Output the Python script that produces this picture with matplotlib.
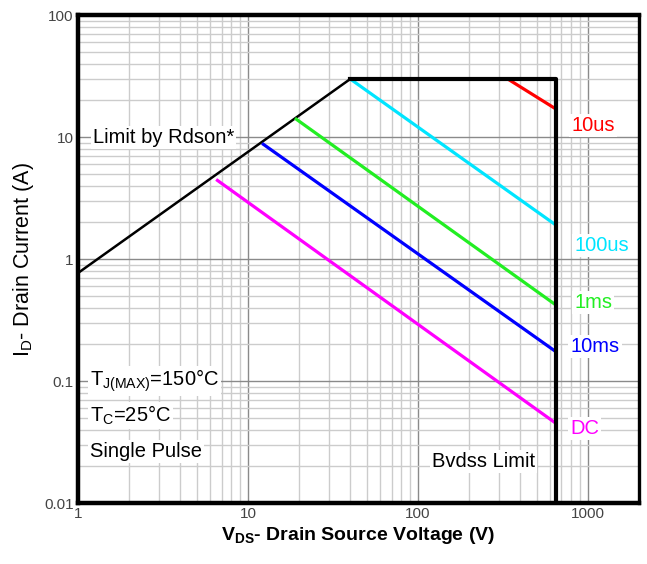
import matplotlib
matplotlib.use("Agg")
import matplotlib.pyplot as plt
from matplotlib.ticker import FixedLocator, LogLocator, NullFormatter

plt.rcParams['font.family'] = ['Liberation Sans', 'DejaVu Sans']
plt.rcParams['mathtext.default'] = 'regular'

# Rdson limit line and outer boundary (current limit + Bvdss)
rdson_v = [1, 40]
rdson_i = [0.77, 30]
bound_v = [40, 650, 650]
bound_i = [30, 30, 0.01]

# pulse-width lines
pulse_names = ['10us', '100us', '1ms', '10ms', 'DC']
pulse_colors = ['#ff0000', '#00e5ff', '#22ee22', '#0000ff', '#ff00ff']
pulse_v0 = [338, 40, 18.9, 12.1, 6.5]
pulse_i0 = [30, 30, 14.3, 8.9, 4.5]
pulse_v1 = [650, 650, 650, 650, 650]
pulse_i1 = [17, 1.9, 0.42, 0.174, 0.045]
label_v = [800, 830, 830, 790, 790]
label_i = [12.5, 1.3, 0.44, 0.194, 0.041]

x_ticks = [1, 10, 100, 1000]
x_ticklabels = ['1', '10', '100', '1000']
y_ticks = [0.01, 0.1, 1, 10, 100]
y_ticklabels = ['0.01', '0.1', '1', '10', '100']

fig = plt.figure(figsize=(6.47, 5.64), dpi=100)
ax = fig.add_axes([0.1206, 0.108, 0.867, 0.865])
ax.set_xscale('log')
ax.set_yscale('log')
ax.set_xlim(1, 2000)
ax.set_ylim(0.01, 100)

ax.xaxis.set_major_locator(FixedLocator(x_ticks))
ax.set_xticklabels(x_ticklabels)
ax.yaxis.set_major_locator(FixedLocator(y_ticks))
ax.set_yticklabels(y_ticklabels)
ax.xaxis.set_minor_locator(LogLocator(base=10, subs=range(2, 10)))
ax.yaxis.set_minor_locator(LogLocator(base=10, subs=range(2, 10)))
ax.xaxis.set_minor_formatter(NullFormatter())
ax.yaxis.set_minor_formatter(NullFormatter())
ax.tick_params(which='both', length=0, labelsize=11, labelcolor='#444444', pad=3)
ax.grid(which='major', color='#8a8a8a', linewidth=1.0)
ax.grid(which='minor', color='#cccccc', linewidth=1.0)
ax.set_axisbelow(True)

for s in ['top', 'left', 'bottom']:
    ax.spines[s].set_linewidth(3.2)
ax.spines['right'].set_linewidth(2.4)

ax.plot(rdson_v, rdson_i, color='black', lw=1.8, zorder=3)
for name, c, v0, i0, v1, i1 in zip(pulse_names, pulse_colors, pulse_v0, pulse_i0, pulse_v1, pulse_i1):
    ax.plot([v0, v1], [i0, i1], color=c, lw=2.3, solid_capstyle='butt', zorder=3)
ax.plot(bound_v, bound_i, color='black', lw=3.0, zorder=4)

box = dict(facecolor='white', edgecolor='none', pad=1.5)
fs = 14.5
for name, c, lv, li in zip(pulse_names, pulse_colors, label_v, label_i):
    ax.text(lv, li, name, color=c, fontsize=fs, va='center', ha='left', bbox=box, zorder=5)

ax.text(1.22, 10, 'Limit by Rdson*', fontsize=fs, va='center', ha='left', bbox=box, zorder=5)
ax.text(121, 0.022, 'Bvdss Limit', fontsize=fs, va='center', ha='left', bbox=box, zorder=5)
ax.text(1.18, 0.1, r'T$_{J(MAX)}$=150°C', fontsize=fs, va='center', ha='left', bbox=box, zorder=5)
ax.text(1.18, 0.052, r'T$_{C}$=25°C', fontsize=fs, va='center', ha='left', bbox=box, zorder=5)
ax.text(1.18, 0.0267, 'Single Pulse', fontsize=fs, va='center', ha='left', bbox=box, zorder=5)

ax.set_xlabel(r'V$_{DS}$- Drain Source Voltage (V)', fontsize=14, fontweight='bold', labelpad=3)
ax.set_ylabel(r'I$_{D}$- Drain Current (A)', fontsize=15.5, labelpad=6)

fig.savefig('out.png', dpi=100)
